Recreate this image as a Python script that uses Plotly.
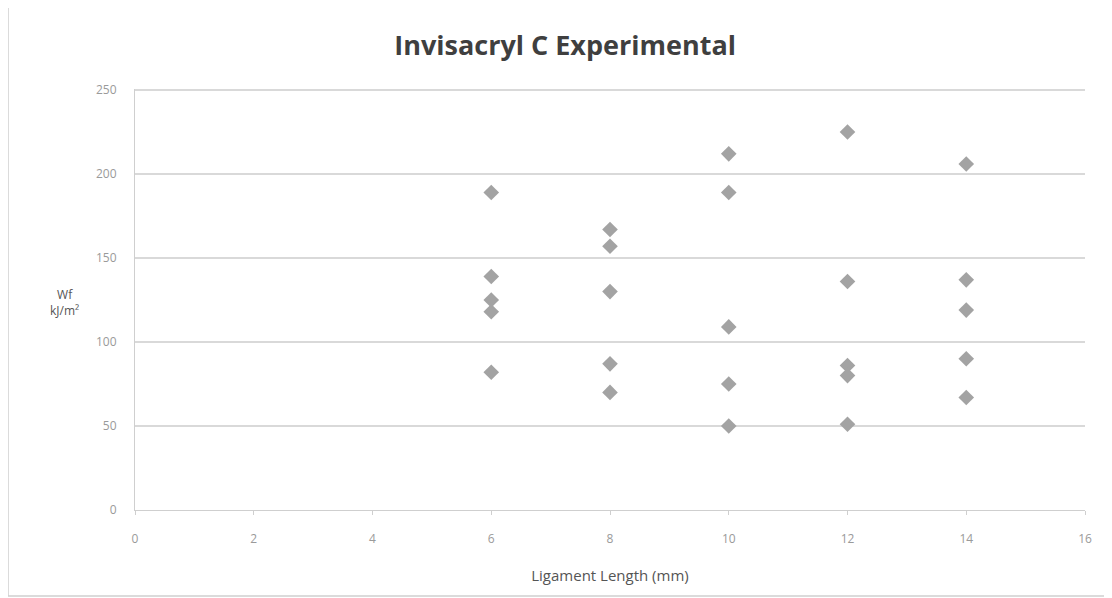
import plotly.graph_objects as go

# Data
x_length = [6, 6, 6, 6, 6,
            8, 8, 8, 8, 8,
            10, 10, 10, 10, 10,
            12, 12, 12, 12, 12,
            14, 14, 14, 14, 14]
wf_values = [189, 139, 125, 118, 82,
             167, 157, 130, 87, 70,
             212, 189, 109, 75, 50,
             225, 136, 86, 80, 51,
             206, 137, 119, 90, 67]

x_ticks = [0, 2, 4, 6, 8, 10, 12, 14, 16]
y_ticks = [0, 50, 100, 150, 200, 250]

fig = go.Figure()
fig.add_trace(go.Scatter(
    x=x_length, y=wf_values, mode="markers",
    marker=dict(symbol="diamond", size=12, color="#a3a3a3",
                line=dict(width=0)),
    showlegend=False,
))

tickfont = dict(family="Open Sans, Liberation Sans, sans-serif", size=12, color="#9a9a9a")

fig.update_layout(
    width=1112, height=598,
    paper_bgcolor="white", plot_bgcolor="white",
    margin=dict(l=127, r=35, t=81, b=96),
    title=dict(text="<b>Invisacryl C Experimental</b>", x=0.501, xanchor="center",
               y=0.937, yanchor="middle",
               font=dict(family="Open Sans, Liberation Sans, sans-serif", size=27, color="#3f3f3f")),
    xaxis=dict(range=[0, 16], tickvals=x_ticks, showgrid=False, zeroline=False,
               showline=True, linecolor="#cfcfcf", linewidth=1,
               ticks="outside", ticklen=4, tickcolor="#cfcfcf",
               ticklabelstandoff=14,
               tickfont=tickfont,
               title=dict(text="Ligament Length (mm)", standoff=24,
                          font=dict(family="Open Sans, sans-serif", size=15, color="#555555"))),
    yaxis=dict(range=[0, 250.6], tickvals=y_ticks, showgrid=True, gridcolor="#d9d9d9",
               gridwidth=1.5, zeroline=False,
               showline=True, linecolor="#cfcfcf", linewidth=1,
               ticks="", ticklabelstandoff=15,
               tickfont=tickfont),
)

fig.add_annotation(text="Wf<br>kJ/m²", xref="paper", yref="paper",
                   x=-0.074, y=0.494, xanchor="center", yanchor="middle",
                   showarrow=False, align="center",
                   font=dict(family="Open Sans, sans-serif", size=12, color="#555555"))

# outer chart border
fig.add_shape(type="rect", xref="paper", yref="paper",
              x0=-127/950, x1=1+22/950, y0=-86/421, y1=1+85/421,
              line=dict(color="#d0d0d0", width=1.5), fillcolor="rgba(0,0,0,0)")

fig.write_html("out.html")
